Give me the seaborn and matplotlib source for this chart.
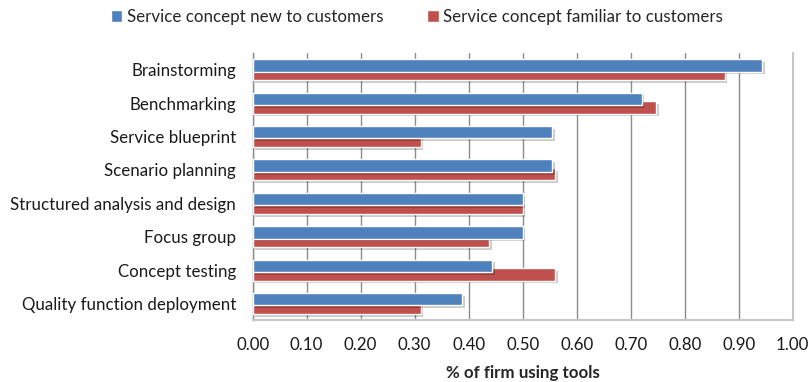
import numpy as np
import pandas as pd
import matplotlib
matplotlib.use("Agg")
import matplotlib.pyplot as plt
import matplotlib.patheffects as pe
from matplotlib.patches import Patch
import seaborn as sns

tools = [
    "Brainstorming",
    "Benchmarking",
    "Service blueprint",
    "Scenario planning",
    "Structured analysis and design",
    "Focus group",
    "Concept testing",
    "Quality function deployment",
]
new_to_customers = [0.943, 0.720, 0.554, 0.554, 0.500, 0.500, 0.443, 0.388]
familiar_to_customers = [0.874, 0.747, 0.311, 0.560, 0.500, 0.438, 0.560, 0.311]
series_names = ["Service concept new to customers", "Service concept familiar to customers"]
x_ticks = [0.0, 0.1, 0.2, 0.3, 0.4, 0.5, 0.6, 0.7, 0.8, 0.9, 1.0]

BLUE = "#4F81BD"
RED = "#C0504D"
FS = 12.2

sns.set_style("white")
plt.rcParams["font.family"] = ["Lato", "DejaVu Sans"]

fig = plt.figure(figsize=(8.11, 3.82), dpi=100)
ax = fig.add_axes([0.3115, 0.162, 0.666, 0.699])

pos = np.arange(len(tools))
offset = 0.13
bar_h = 0.37

shadow = [pe.SimplePatchShadow(offset=(2, -2), shadow_rgbFace="black", alpha=0.2), pe.Normal()]

# familiar series first so the "new" bars overlap it
df_fam = pd.DataFrame({"value": familiar_to_customers, "pos": pos + offset})
df_new = pd.DataFrame({"value": new_to_customers, "pos": pos - offset})

for df, color in [(df_fam, RED), (df_new, BLUE)]:
    before = len(ax.patches)
    sns.barplot(data=df, x="value", y="pos", orient="h", native_scale=True,
                width=bar_h, color=color, saturation=1, edgecolor="white",
                linewidth=1.0, errorbar=None, ax=ax)
    for p in ax.patches[before:]:
        p.set_path_effects(shadow)
        p.set_zorder(3)

ax.set_ylim(len(tools) - 0.5, -0.5)
ax.set_xlim(0, 1.0)
ax.set_yticks(pos)
ax.set_yticklabels(tools, fontsize=FS, color="#1a1a1a")
ax.set_xticks(x_ticks)
ax.set_xticklabels([f"{v:.2f}" for v in x_ticks], fontsize=FS, color="#1a1a1a")
ax.set_ylabel("")
ax.set_xlabel("% of firm using tools", fontsize=FS, fontweight="bold", labelpad=9)
ax.tick_params(axis="y", length=0, pad=12)
ax.tick_params(axis="x", length=0, pad=12)

ax.grid(axis="x", color="#8c8c8c", linewidth=1.0, zorder=0)
ax.set_axisbelow(True)
ax.spines["top"].set_visible(False)
ax.spines["right"].set_color("#c8c8c8")
ax.spines["right"].set_linewidth(1.5)
ax.spines["bottom"].set_color("#c8c8c8")
ax.spines["bottom"].set_linewidth(1.5)
ax.spines["left"].set_color("#8c8c8c")
ax.spines["left"].set_linewidth(1.0)

handles = [Patch(facecolor=BLUE, edgecolor="white"), Patch(facecolor=RED, edgecolor="white")]
fig.legend(handles, series_names, loc="center", bbox_to_anchor=(0.514, 0.955), ncol=2,
           frameon=False, fontsize=FS, handlelength=0.7, handleheight=0.7,
           handletextpad=0.25, columnspacing=2.6)

fig.savefig("out.png", dpi=100)
